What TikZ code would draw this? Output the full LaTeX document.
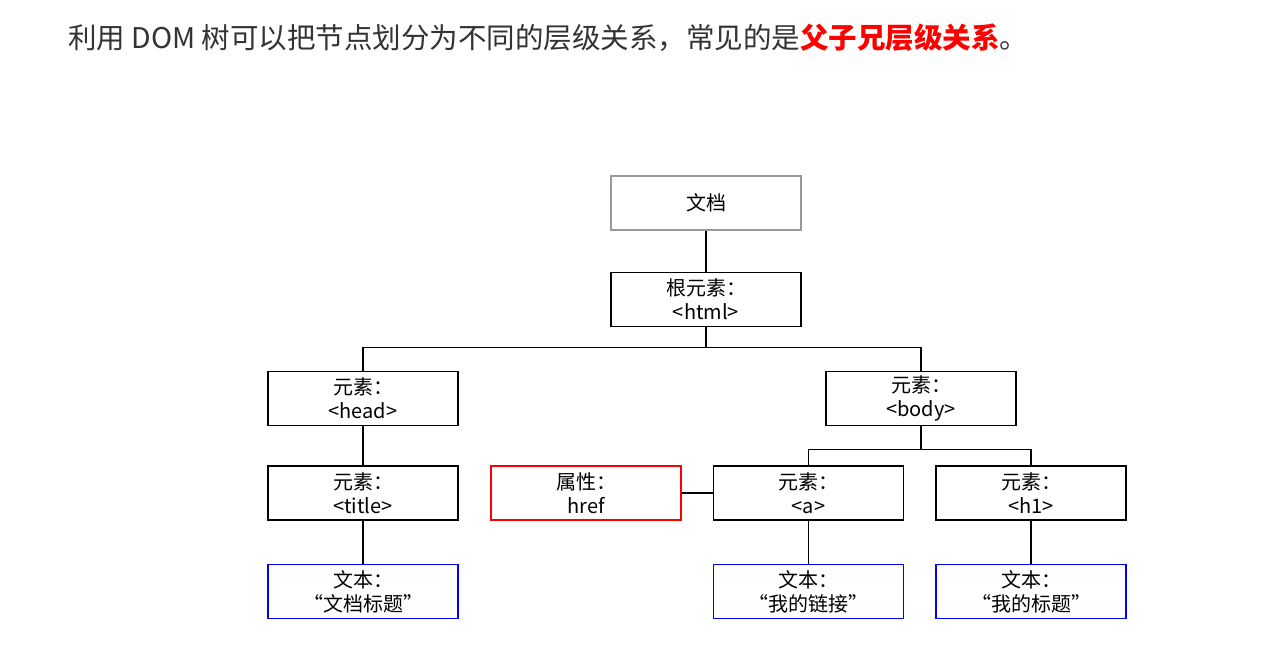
\documentclass[tikz,border=0pt]{standalone}
\usepackage{fontspec}
\setmainfont{Noto Sans CJK SC}
\begin{document}
\begin{tikzpicture}[x=1pt,y=-1pt,
  box/.style={draw=black,line width=1.5pt,minimum width=190pt,minimum height=54pt,inner sep=0pt,align=center,font=\fontsize{20}{24}\selectfont},
  ln/.style={draw=black,line width=1.5pt}]
\useasboundingbox[fill=white] (0,0) rectangle (1263,649);
\node[anchor=west,inner sep=0pt,font=\fontsize{28.5}{32}\selectfont,text=black!80] (t) at (68,38) {利用 DOM 树可以把节点划分为不同的层级关系，常见的是\textcolor{red}{\textbf{父子兄层级关系}}。};
\node[box,draw=gray!80,line width=2.5pt] (doc) at (706,203) {文档};
\node[box] (html) at (706,299.5) {根元素：\\<html>};
\node[box] (head) at (363,398.5) {元素：\\<head>};
\node[box] (body) at (921,398.5) {元素：\\<body>};
\node[box] (title) at (363,493) {元素：\\<title>};
\node[box,draw=red] (href) at (586,493) {属性：\\href};
\node[box] (a) at (808.5,493) {元素：\\<a>};
\node[box] (h1) at (1031,493) {元素：\\<h1>};
\node[box,draw=blue] (t1) at (363,591.5) {文本：\\“文档标题”};
\node[box,draw=blue] (t2) at (808.5,591.5) {文本：\\“我的链接”};
\node[box,draw=blue] (t3) at (1031,591.5) {文本：\\“我的标题”};
\draw[ln] (doc) -- (html);
\draw[ln] (html.south) -- ++(0,20) -| (head.north);
\draw[ln] (html.south) -- ++(0,20) -| (body.north);
\draw[ln] (body.south) -- ++(0,23) -| (a.north);
\draw[ln] (body.south) -- ++(0,23) -| (h1.north);
\draw[ln] (head) -- (title);
\draw[ln] (title) -- (t1);
\draw[ln] (href) -- (a);
\draw[ln] (a) -- (t2);
\draw[ln] (h1) -- (t3);
\end{tikzpicture}
\end{document}
